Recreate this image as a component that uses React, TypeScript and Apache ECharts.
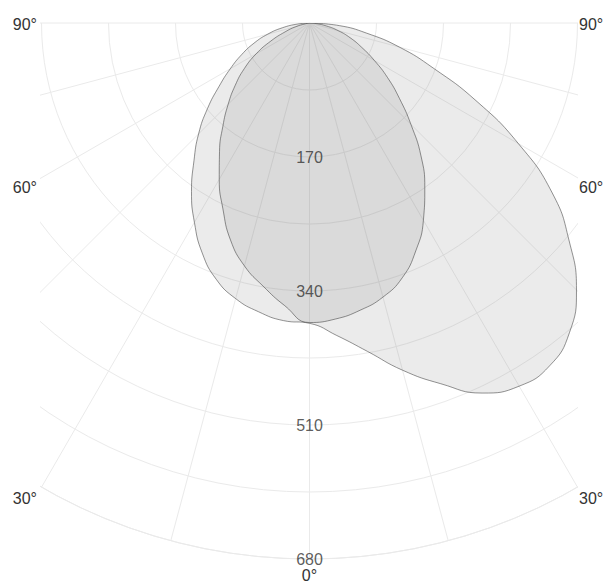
import React, { useEffect, useRef } from "react";
import * as echarts from "echarts";

// Angle (degrees from the downward axis; positive = left side)
const thetas = [
  90, 85, 80, 75, 70, 65, 60, 55, 50, 45, 40, 35, 30, 25, 20, 15, 10, 5, 0,
  -5, -10, -15, -20, -25, -30, -35, -40, -45, -50, -55, -60, -65, -70, -75, -80, -85, -90,
];
// Smaller (darker) lobe
const lobeA = [
  0, 0, 5, 18, 33, 54, 78, 101, 123, 146, 171, 199, 229, 260, 293, 319, 339, 360, 380,
  377, 370, 360, 344, 319, 289, 255, 220, 182, 149, 121, 95, 73, 55, 38, 22, 8, 0,
];
// Larger lobe
const lobeB = [
  0, 15, 35, 55, 75, 95, 116, 140, 169, 199, 228, 261, 292, 322, 346, 362, 372, 379, 381,
  398, 423, 456, 487, 518, 532, 531, 513, 479, 430, 376, 306, 233, 167, 118, 73, 38, 0,
];
const radiusTicks = [170, 340, 510, 680];
const angleLabels = [90, 60, 30];

const FONT = "'Liberation Sans', Arial, Helvetica, sans-serif";
const CX = 309.5;
const CY = 23;
const R = 536;
const CLIP_L = 40;
const CLIP_R = 578;
const GRID = "#eaeaea";
const TEXT = "#333";

export default function App() {
  const ref = useRef<HTMLDivElement>(null);
  useEffect(() => {
    if (!ref.current) return;
    const chart = echarts.init(ref.current, null, { renderer: "svg" });
    const half = CX - CLIP_L;
    const labelGraphics: any[] = [];
    angleLabels.forEach((a) => {
      const yEnd = a === 90 ? CY : CY + half * Math.tan(((90 - a) * Math.PI) / 180);
      const y = a === 90 ? yEnd + 1 : yEnd + 9;
      labelGraphics.push({
        type: "text",
        z: 20,
        x: CLIP_L - 3,
        y,
        style: { text: a + "°", fill: TEXT, font: `16px ${FONT}`, align: "right", verticalAlign: "middle" },
      });
      labelGraphics.push({
        type: "text",
        z: 20,
        x: CLIP_R + 1,
        y,
        style: { text: a + "°", fill: TEXT, font: `16px ${FONT}`, align: "left", verticalAlign: "middle" },
      });
    });
    labelGraphics.push({
      type: "text",
      z: 20,
      x: CX,
      y: CY + R + 16,
      style: { text: "0°", fill: TEXT, font: `16px ${FONT}`, align: "center", verticalAlign: "middle" },
    });

    chart.setOption({
      animation: false,
      backgroundColor: "#ffffff",
      textStyle: { fontFamily: FONT },
      polar: { center: [CX, CY], radius: R },
      angleAxis: {
        type: "value",
        min: -90,
        max: 90,
        interval: 15,
        startAngle: 0,
        endAngle: -180,
        clockwise: true,
        axisLine: { show: true, lineStyle: { color: GRID, width: 1 } },
        axisTick: { show: false },
        axisLabel: { show: false },
        splitLine: { show: true, lineStyle: { color: GRID, width: 1 } },
      },
      radiusAxis: {
        type: "value",
        min: 0,
        max: 680,
        interval: 85,
        axisLine: { show: false },
        axisTick: { show: false },
        axisLabel: { show: false },
        splitLine: { show: true, lineStyle: { color: GRID, width: 1 } },
      },
      series: [
        {
          type: "line",
          coordinateSystem: "polar",
          data: thetas.map((t, i) => [lobeB[i], t]),
          showSymbol: false,
          smooth: 0.5,
          lineStyle: { color: "rgba(60,60,60,0.55)", width: 1 },
          areaStyle: { color: "rgba(120,120,120,0.21)" },
          z: 2,
          silent: true,
        },
        {
          type: "line",
          coordinateSystem: "polar",
          data: thetas.map((t, i) => [lobeA[i], t]),
          showSymbol: false,
          smooth: 0.5,
          lineStyle: { color: "rgba(60,60,60,0.55)", width: 1 },
          areaStyle: { color: "rgba(120,120,120,0.21)" },
          z: 3,
          silent: true,
        },
        {
          type: "scatter",
          coordinateSystem: "polar",
          data: radiusTicks.map((r) => [r, 0]),
          symbolSize: 0,
          silent: true,
          z: 6,
          label: {
            show: true,
            position: "inside",
            formatter: (p: any) => String(p.value[0]),
            color: TEXT,
            fontSize: 16,
            fontFamily: FONT,
          },
        },
      ],
      graphic: [
        { type: "rect", z: 10, shape: { x: 0, y: 0, width: CLIP_L, height: 585 }, style: { fill: "#fff" } },
        { type: "rect", z: 10, shape: { x: CLIP_R, y: 0, width: 608 - CLIP_R, height: 585 }, style: { fill: "#fff" } },
        ...labelGraphics,
      ],
    });
    return () => chart.dispose();
  }, []);
  return <div ref={ref} style={{ position: "absolute", left: 0, top: 0, width: 608, height: 585 }} />;
}
